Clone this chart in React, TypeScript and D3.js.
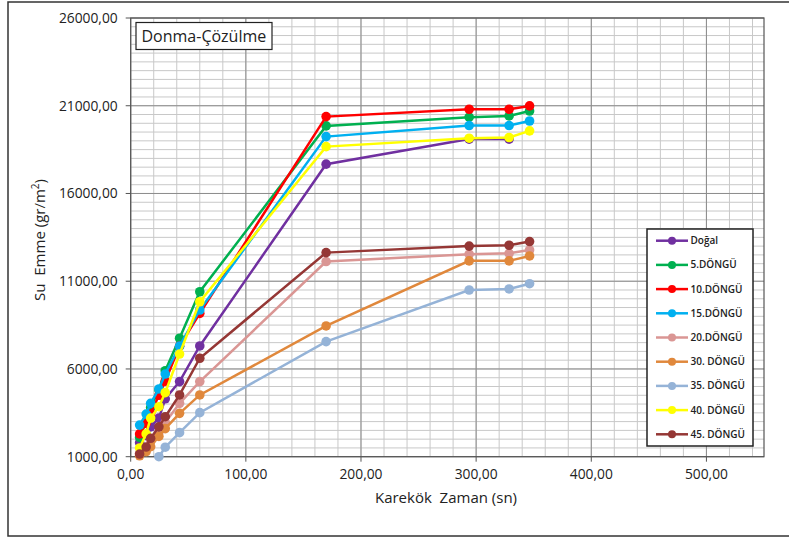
import React from "react";
import * as d3 from "d3";

// Karekök zaman (sqrt of seconds)
const xValues = [7.75, 13.42, 17.32, 24.49, 30.0, 42.43, 60.0, 169.71, 293.94, 328.63, 346.41];

const seriesNames = ["Doğal", "5.DÖNGÜ", "10.DÖNGÜ", "15.DÖNGÜ", "20.DÖNGÜ", "30. DÖNGÜ", "35. DÖNGÜ", "40. DÖNGÜ", "45. DÖNGÜ"];
const seriesColors = ["#7030A0", "#00B050", "#FF0000", "#00B0F0", "#DA9694", "#E0883C", "#95B3D7", "#FFFF00", "#953735"];

const dogal = [1800, 2200, 2700, 3200, 4300, 5280, 7310, 17670, 19100, 19100, null];
const dongu5 = [2100, 3000, 3800, 4800, 5900, 7750, 10400, 19850, 20350, 20420, 20700];
const dongu10 = [2300, 2900, 3450, 4500, 5300, 7300, 9170, 20380, 20800, 20800, 20990];
const dongu15 = [2800, 3430, 4040, 4860, 5710, 7300, 9360, 19240, 19870, 19870, 20130];
const dongu20 = [1200, 1500, 1900, 2400, 2950, 4040, 5280, 12120, 12540, 12590, 12780];
const dongu30 = [1050, 1290, 1570, 2160, 2600, 3470, 4520, 8450, 12160, 12160, 12440];
const dongu35 = [null, null, null, 1000, 1540, 2370, 3510, 7560, 10500, 10560, 10860];
const dongu40 = [1500, 2300, 3200, 3850, 4650, 6850, 9830, 18670, 19150, 19190, 19570];
const dongu45 = [1150, 1550, 2050, 2700, 3280, 4520, 6610, 12630, 13000, 13050, 13260];

const seriesValues = [dogal, dongu5, dongu10, dongu15, dongu20, dongu30, dongu35, dongu40, dongu45];

const xTicks = [0, 100, 200, 300, 400, 500];
const yTicks = [1000, 6000, 11000, 16000, 21000, 26000];

const W = 789;
const H = 538;
const PL = 130.7, PR = 764, PT = 18, PB = 456.7;

const fmt = (v: number) => d3.format(".2f")(v).replace(".", ",");

export default function App() {
  const x = d3.scaleLinear().domain([0, 550]).range([PL, PR]);
  const y = d3.scaleLinear().domain([1000, 26000]).range([PB, PT]);
  const minorX = d3.range(0, 551, 20);
  const minorY = d3.range(1000, 26001, 500);
  const font = "'Open Sans', 'DejaVu Sans', sans-serif";

  const line = d3
    .line<[number, number | null]>()
    .defined((d) => d[1] !== null)
    .x((d) => x(d[0]))
    .y((d) => y(d[1] as number));

  const legX = 647, legY = 229, legW = 106, legH = 217;

  return (
    <svg width={W} height={H} style={{ position: "absolute", left: 0, top: 0, background: "#fff" }}>
      <defs>
        <clipPath id="plotclip">
          <rect x={PL} y={PT - 6} width={PR - PL + 6} height={PB - PT + 12} />
        </clipPath>
      </defs>
      <rect x={8} y={2} width={W} height={534} fill="#fff" stroke="#333" strokeWidth={1.5} />

      {/* minor grid */}
      {minorX.map((v) => (
        <line key={"mx" + v} x1={x(v)} x2={x(v)} y1={PT} y2={PB} stroke="#C8C8C8" strokeWidth={1} />
      ))}
      {minorY.map((v) => (
        <line key={"my" + v} x1={PL} x2={PR} y1={y(v)} y2={y(v)} stroke="#C8C8C8" strokeWidth={1} />
      ))}
      {/* major grid */}
      {xTicks.map((v) => (
        <line key={"Mx" + v} x1={x(v)} x2={x(v)} y1={PT} y2={PB} stroke="#8C8C8C" strokeWidth={1} />
      ))}
      {yTicks.map((v) => (
        <line key={"My" + v} x1={PL} x2={PR} y1={y(v)} y2={y(v)} stroke="#8C8C8C" strokeWidth={1} />
      ))}
      <rect x={PL} y={PT} width={PR - PL} height={PB - PT} fill="none" stroke="#555" strokeWidth={1.2} />

      {/* ticks */}
      {yTicks.map((v) => (
        <g key={"yt" + v}>
          <line x1={PL - 5} x2={PL} y1={y(v)} y2={y(v)} stroke="#555" />
          <text x={PL - 13} y={y(v)} dy="0.35em" textAnchor="end" fontFamily={font} fontSize={13.8} fill="#222">
            {fmt(v)}
          </text>
        </g>
      ))}
      {xTicks.map((v) => (
        <g key={"xt" + v}>
          <line x1={x(v)} x2={x(v)} y1={PB} y2={PB + 5} stroke="#555" />
          <text x={x(v)} y={PB + 22} textAnchor="middle" fontFamily={font} fontSize={13.8} fill="#222">
            {fmt(v)}
          </text>
        </g>
      ))}

      {/* axis titles */}
      <text x={446} y={503} textAnchor="middle" fontFamily={font} fontSize={15} fill="#222" style={{ whiteSpace: "pre" }}>
        {"Karekök  Zaman (sn)"}
      </text>
      <text
        transform={`translate(45,240) rotate(-90)`}
        textAnchor="middle"
        fontFamily={font}
        fontSize={15}
        fill="#222"
        style={{ whiteSpace: "pre" }}
      >
        {"Su  Emme (gr/m"}<tspan fontSize={10} dy={-6}>2</tspan><tspan dy={6}>)</tspan>
      </text>

      {/* series */}
      <g clipPath="url(#plotclip)">
        {seriesValues.map((vals, i) => {
          const pts: [number, number | null][] = xValues.map((xv, j) => [xv, vals[j] ?? null]);
          return (
            <g key={"s" + i}>
              <path d={line(pts) || ""} fill="none" stroke={seriesColors[i]} strokeWidth={2.5} />
              {pts
                .filter((p) => p[1] !== null)
                .map((p, j) => (
                  <circle key={j} cx={x(p[0])} cy={y(p[1] as number)} r={4.8} fill={seriesColors[i]} />
                ))}
            </g>
          );
        })}
      </g>

      {/* title box */}
      <rect x={136} y={22.5} width={136} height={27} fill="#fff" stroke="#222" strokeWidth={1.2} />
      <text x={141.5} y={42} fontFamily={font} fontSize={16} fill="#222">
        Donma-Çözülme
      </text>

      {/* legend */}
      <rect x={legX} y={legY} width={legW} height={legH} fill="#fff" stroke="#222" strokeWidth={1.5} />
      {seriesNames.map((n, i) => {
        const cy = 240.7 + i * 24.2;
        return (
          <g key={"lg" + i}>
            <line x1={656} x2={688} y1={cy} y2={cy} stroke={seriesColors[i]} strokeWidth={2.5} />
            <circle cx={672} cy={cy} r={4} fill={seriesColors[i]} />
            <text x={690.5} y={cy} dy="0.35em" fontFamily={font} fontSize={10} fontWeight={600} fill="#222">
              {n}
            </text>
          </g>
        );
      })}
    </svg>
  );
}
